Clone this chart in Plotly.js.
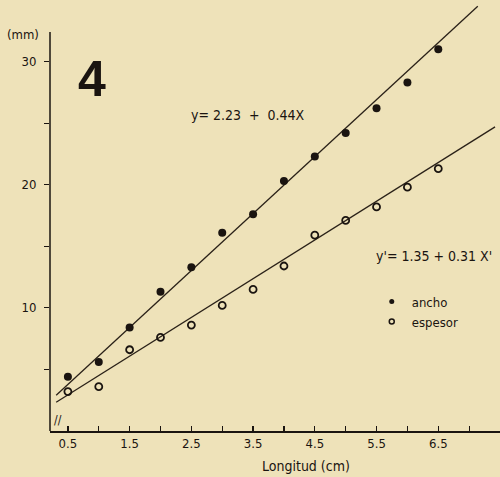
<!DOCTYPE html>
<html>
<head>
<meta charset="utf-8">
<script src="https://cdn.plot.ly/plotly-3.0.1.min.js"></script>
<style>html,body{margin:0;padding:0;background:#eee2b9;}#chart{width:500px;height:477px;}</style>
</head>
<body>
<div id="chart"></div>
<script>
// Longitud (cm)
const longitud = [0.5, 1.0, 1.5, 2.0, 2.5, 3.0, 3.5, 4.0, 4.5, 5.0, 5.5, 6.0, 6.5];
// ancho (mm), filled dots
const ancho = [4.4, 5.6, 8.4, 11.3, 13.3, 16.1, 17.6, 20.3, 22.3, 24.2, 26.2, 28.3, 31.0];
// espesor (mm), open dots
const espesor = [3.2, 3.6, 6.6, 7.6, 8.6, 10.2, 11.5, 13.4, 15.9, 17.1, 18.2, 19.8, 21.3];
// fitted lines as drawn (endpoints)
const anchoFitX = [0.31, 7.14];
const anchoFitY = [2.9, 34.5];
const espesorFitX = [0.31, 7.42];
const espesorFitY = [2.33, 24.7];
// ticks
const xTickVals = [0.5, 1.0, 1.5, 2.0, 2.5, 3.0, 3.5, 4.0, 4.5, 5.0, 5.5, 6.0, 6.5, 7.0];
const xTickText = ['0.5', '', '1.5', '', '2.5', '', '3.5', '', '4.5', '', '5.5', '', '6.5', ''];
const yTickVals = [5, 10, 15, 20, 25, 30];
const yTickText = ['', '10', '', '20', '', '30'];
const seriesNames = ['ancho', 'espesor'];

const F = '"DejaVu Sans Condensed", "DejaVu Sans", sans-serif';
const INK = '#1a1410';

const traces = [
  {x: anchoFitX, y: anchoFitY, mode: 'lines', line: {color: '#2a2118', width: 1.3}, showlegend: false, hoverinfo: 'skip'},
  {x: espesorFitX, y: espesorFitY, mode: 'lines', line: {color: '#2a2118', width: 1.3}, showlegend: false, hoverinfo: 'skip'},
  {x: longitud, y: ancho, name: seriesNames[0], mode: 'markers', showlegend: false, marker: {symbol: 'circle', size: 8, color: INK}},
  {x: longitud, y: espesor, name: seriesNames[1], mode: 'markers', showlegend: false, marker: {symbol: 'circle-open', size: 7, color: INK, line: {width: 1.8, color: INK}}},
  // legend-only entries (small symbols as in the original key); null = nothing plotted
  {x: [null], y: [null], name: seriesNames[0], mode: 'markers', marker: {symbol: 'circle', size: 5, color: INK}},
  {x: [null], y: [null], name: seriesNames[1], mode: 'markers', marker: {symbol: 'circle-open', size: 5, color: INK, line: {width: 1.5, color: INK}}}
];

const layout = {
  width: 500, height: 477,
  margin: {l: 50, r: 0, t: 0, b: 46},
  paper_bgcolor: '#eee2b9',
  plot_bgcolor: '#eee2b9',
  font: {family: F, size: 13, color: INK},
  xaxis: {
    range: [0.21, 7.5], showgrid: false, zeroline: false,
    showline: true, linecolor: INK, linewidth: 1.5,
    ticks: 'inside', ticklen: 5, tickwidth: 1.2, tickcolor: INK,
    tickvals: xTickVals, ticktext: xTickText,
    tickfont: {family: F, size: 13, color: INK}
  },
  yaxis: {
    range: [0, 35], showgrid: false, zeroline: false, showline: false,
    ticks: 'outside', ticklen: 5, tickwidth: 1.2, tickcolor: INK,
    ticklabelstandoff: 5,
    tickvals: yTickVals, ticktext: yTickText,
    tickfont: {family: F, size: 13, color: INK}
  },
  shapes: [
    {type: 'line', xref: 'paper', yref: 'y', x0: 0, x1: 0, y0: 0, y1: 32.4, line: {color: INK, width: 1.5}}
  ],
  legend: {
    x: 0.715, y: 0.335, xanchor: 'left', yanchor: 'top',
    bgcolor: 'rgba(0,0,0,0)', font: {family: F, size: 13, color: INK},
    itemsizing: 'trace', tracegroupgap: 0
  },
  annotations: [
    {text: '(mm)', xref: 'paper', yref: 'paper', x: -0.06, y: 0.919, xanchor: 'center', yanchor: 'middle', showarrow: false, font: {family: F, size: 13}},
    {text: '<b>4</b>', xref: 'paper', yref: 'paper', x: 0.093, y: 0.817, xanchor: 'center', yanchor: 'middle', showarrow: false, font: {family: '"Liberation Sans", sans-serif', size: 50, color: INK}},
    {text: 'y= 2.23  +  0.44X', xref: 'paper', yref: 'paper', x: 0.44, y: 0.733, xanchor: 'center', yanchor: 'middle', showarrow: false, font: {family: F, size: 14}},
    {text: "y'= 1.35 + 0.31 X'", xref: 'paper', yref: 'paper', x: 0.853, y: 0.406, xanchor: 'center', yanchor: 'middle', showarrow: false, font: {family: F, size: 14}},
    {text: 'Longitud (cm)', xref: 'paper', yref: 'paper', x: 0.569, y: -0.081, xanchor: 'center', yanchor: 'middle', showarrow: false, font: {family: F, size: 14}},
    {text: '//', xref: 'paper', yref: 'paper', x: 0.018, y: 0.004, xanchor: 'center', yanchor: 'bottom', showarrow: false, font: {family: F, size: 12}}
  ]
};

Plotly.newPlot('chart', traces, layout, {displayModeBar: false, staticPlot: true});
</script>
</body>
</html>
